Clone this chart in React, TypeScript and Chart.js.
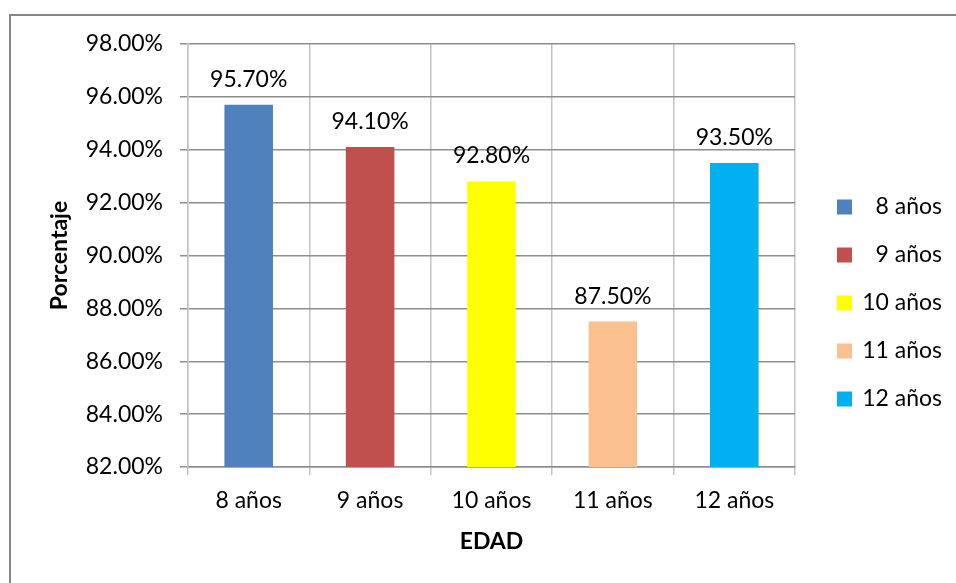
import React, { useEffect, useRef } from 'react';
import { Chart, registerables } from 'chart.js';

Chart.register(...registerables);

// ---- data ----
const categories: string[] = ['8 años', '9 años', '10 años', '11 años', '12 años'];
const values: number[] = [95.7, 94.1, 92.8, 87.5, 93.5];
const barColors: string[] = ['#4F81BD', '#C0504D', '#FFFF00', '#FAC090', '#00B0F0'];
const yMin = 82;
const yMax = 98;
const yStep = 2;
const xTitle = 'EDAD';
const yTitle = 'Porcentaje';

const FONT = "Lato, 'Open Sans', 'Noto Sans', sans-serif";
const fmt = (v: number) => v.toFixed(2) + '%';

const LEGEND_W = 147;
const LEGEND_SHIFT = 17;

const layoutTweak = {
  id: 'layoutTweak',
  beforeLayout(chart: any) {
    const lg = chart.legend;
    if (lg && !lg.__patched) {
      const orig = lg.fit.bind(lg);
      lg.fit = function () {
        orig();
        this.width = LEGEND_W;
      };
      lg.__patched = true;
    }
  },
  afterLayout(chart: any) {
    const lg = chart.legend;
    if (lg) lg.left += LEGEND_SHIFT;
  },
};

const frame = {
  id: 'frame',
  beforeDraw(chart: any) {
    const ctx = chart.ctx;
    ctx.save();
    ctx.fillStyle = '#ffffff';
    ctx.fillRect(0, 0, chart.width, chart.height);
    ctx.strokeStyle = '#878787';
    ctx.lineWidth = 2;
    ctx.beginPath();
    ctx.moveTo(10, chart.height + 5);
    ctx.lineTo(10, 15);
    ctx.lineTo(chart.width + 5, 15);
    ctx.stroke();
    ctx.restore();
  },
};

const valueLabels = {
  id: 'valueLabels',
  afterDatasetsDraw(chart: any) {
    const ctx = chart.ctx;
    const meta = chart.getDatasetMeta(0);
    ctx.save();
    ctx.font = `23px ${FONT}`;
    ctx.fillStyle = '#000';
    ctx.textAlign = 'center';
    ctx.textBaseline = 'alphabetic';
    meta.data.forEach((bar: any, i: number) => {
      ctx.fillText(fmt(values[i]), bar.x, bar.y - 18);
    });
    ctx.restore();
  },
};

export default function App() {
  const ref = useRef<HTMLCanvasElement | null>(null);

  useEffect(() => {
    if (!ref.current) return;
    const chart = new Chart(ref.current, {
      type: 'bar',
      data: {
        labels: categories,
        datasets: [
          {
            data: values,
            backgroundColor: barColors,
            borderWidth: 0,
            barPercentage: 0.4,
            categoryPercentage: 1.0,
          },
        ],
      },
      options: {
        animation: false,
        responsive: false,
        maintainAspectRatio: false,
        devicePixelRatio: 1,
        layout: { padding: { left: 0, top: 44, right: 14, bottom: 21 } },
        plugins: {
          tooltip: { enabled: false },
          legend: {
            display: true,
            position: 'right',
            labels: {
              boxWidth: 15,
              boxHeight: 15,
              padding: 25,
              color: '#000',
              textAlign: 'right',
              font: { family: FONT, size: 23 },
              generateLabels: () =>
                categories.map((c, i) => ({
                  text: c,
                  fillStyle: barColors[i],
                  strokeStyle: barColors[i],
                  lineWidth: 0,
                  hidden: false,
                  index: i,
                  datasetIndex: 0,
                  fontColor: '#000',
                  textAlign: 'right',
                })),
            },
          },
        },
        scales: {
          x: {
            grid: {
              display: true,
              offset: true,
              color: '#c4c4c4',
              lineWidth: 1.5,
              tickLength: 8,
              drawTicks: true,
            },
            border: { display: true, color: '#8e8e8e', width: 1.5 },
            ticks: {
              color: '#000',
              padding: 12,
              font: { family: FONT, size: 23 },
            },
            title: {
              display: true,
              text: xTitle,
              color: '#000',
              font: { family: FONT, size: 23, weight: 'bold' },
              padding: { top: 0, bottom: 7 },
            },
            afterFit: (scale: any) => {
              scale.height = 95;
            },
          },
          y: {
            min: yMin,
            max: yMax,
            ticks: {
              stepSize: yStep,
              color: '#000',
              padding: 17,
              font: { family: FONT, size: 23 },
              callback: (v: any) => fmt(Number(v)),
            },
            grid: {
              display: true,
              color: '#8e8e8e',
              lineWidth: 1.5,
              tickLength: 8,
            },
            border: { display: true, color: '#c4c4c4', width: 1.5 },
            title: {
              display: true,
              text: yTitle,
              color: '#000',
              font: { family: FONT, size: 23, weight: 'bold' },
              padding: { top: 46, bottom: 0 },
            },
            afterFit: (scale: any) => {
              scale.width = 188;
            },
          },
        },
      },
      plugins: [layoutTweak, frame, valueLabels],
    } as any);
    return () => chart.destroy();
  }, []);

  return (
    <div style={{ position: 'absolute', left: 0, top: 0, width: 956, height: 583 }}>
      <canvas ref={ref} width={956} height={583} style={{ display: 'block', width: 956, height: 583 }} />
    </div>
  );
}
